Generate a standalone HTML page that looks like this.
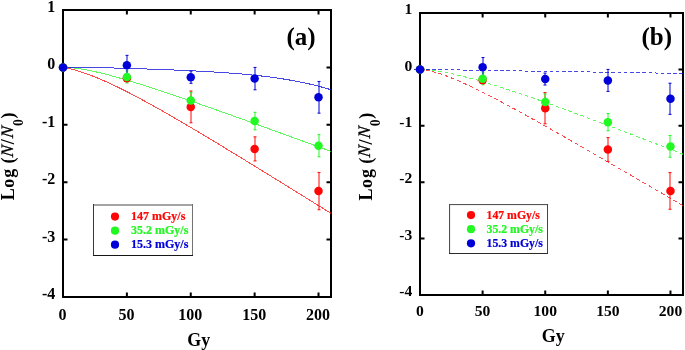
<!DOCTYPE html>
<html><head><meta charset="utf-8"><style>
html,body{margin:0;padding:0;background:#fff;}
svg{display:block;will-change:transform;}
.t{font-family:"Liberation Serif",serif;font-weight:bold;}
</style></head><body>
<svg width="685" height="350" viewBox="0 0 685 350">
<rect width="685" height="350" fill="#fff"/>
<rect x="63" y="10" width="268" height="287" fill="none" stroke="#000" stroke-width="2"/>
<path d="M126.88,297v-4.5M126.88,10v4.5" stroke="#000" stroke-width="2"/>
<path d="M190.76,297v-4.5M190.76,10v4.5" stroke="#000" stroke-width="2"/>
<path d="M254.64,297v-4.5M254.64,10v4.5" stroke="#000" stroke-width="2"/>
<path d="M318.52,297v-4.5M318.52,10v4.5" stroke="#000" stroke-width="2"/>
<path d="M63,67.40h4.5M331,67.40h-4.5" stroke="#000" stroke-width="2"/>
<path d="M63,124.80h4.5M331,124.80h-4.5" stroke="#000" stroke-width="2"/>
<path d="M63,182.20h4.5M331,182.20h-4.5" stroke="#000" stroke-width="2"/>
<path d="M63,239.60h4.5M331,239.60h-4.5" stroke="#000" stroke-width="2"/>
<polyline points="63.00,67.40 65.56,67.89 68.11,68.42 70.67,69.00 73.22,69.64 75.78,70.33 78.33,71.07 80.89,71.85 83.44,72.68 86.00,73.56 88.55,74.48 91.11,75.43 93.66,76.42 96.22,77.44 98.77,78.50 101.33,79.58 103.88,80.70 106.44,81.83 108.99,83.00 111.55,84.18 114.10,85.39 116.66,86.62 119.21,87.86 121.77,89.13 124.32,90.41 126.88,91.71 129.44,93.02 131.99,94.35 134.55,95.69 137.10,97.04 139.66,98.41 142.21,99.78 144.77,101.17 147.32,102.57 149.88,103.98 152.43,105.39 154.99,106.82 157.54,108.25 160.10,109.69 162.65,111.14 165.21,112.60 167.76,114.06 170.32,115.53 172.87,117.00 175.43,118.48 177.98,119.97 180.54,121.46 183.09,122.95 185.65,124.45 188.20,125.96 190.76,127.46 193.32,128.98 195.87,130.49 198.43,132.01 200.98,133.54 203.54,135.07 206.09,136.60 208.65,138.13 211.20,139.67 213.76,141.20 216.31,142.75 218.87,144.29 221.42,145.84 223.98,147.38 226.53,148.94 229.09,150.49 231.64,152.04 234.20,153.60 236.75,155.16 239.31,156.72 241.86,158.28 244.42,159.84 246.97,161.41 249.53,162.97 252.08,164.54 254.64,166.11 257.20,167.68 259.75,169.25 262.31,170.82 264.86,172.40 267.42,173.97 269.97,175.55 272.53,177.12 275.08,178.70 277.64,180.28 280.19,181.86 282.75,183.44 285.30,185.02 287.86,186.60 290.41,188.18 292.97,189.76 295.52,191.34 298.08,192.93 300.63,194.51 303.19,196.10 305.74,197.68 308.30,199.27 310.85,200.85 313.41,202.44 315.96,204.03 318.52,205.61 321.08,207.20 323.63,208.79 326.19,210.38 328.74,211.97 331.30,213.56" fill="none" stroke="#ff0505" stroke-width="1" stroke-opacity="0.72" shape-rendering="crispEdges"/>
<polyline points="63.00,67.40 65.56,67.39 68.11,67.48 70.67,67.65 73.22,67.89 75.78,68.18 78.33,68.53 80.89,68.92 83.44,69.34 86.00,69.81 88.55,70.30 91.11,70.82 93.66,71.37 96.22,71.94 98.77,72.54 101.33,73.15 103.88,73.78 106.44,74.43 108.99,75.10 111.55,75.78 114.10,76.48 116.66,77.18 119.21,77.90 121.77,78.64 124.32,79.38 126.88,80.13 129.44,80.89 131.99,81.66 134.55,82.44 137.10,83.23 139.66,84.02 142.21,84.82 144.77,85.63 147.32,86.44 149.88,87.26 152.43,88.09 154.99,88.92 157.54,89.76 160.10,90.60 162.65,91.44 165.21,92.29 167.76,93.15 170.32,94.00 172.87,94.86 175.43,95.73 177.98,96.60 180.54,97.47 183.09,98.34 185.65,99.22 188.20,100.10 190.76,100.98 193.32,101.87 195.87,102.75 198.43,103.64 200.98,104.54 203.54,105.43 206.09,106.33 208.65,107.22 211.20,108.12 213.76,109.02 216.31,109.93 218.87,110.83 221.42,111.74 223.98,112.65 226.53,113.56 229.09,114.47 231.64,115.38 234.20,116.29 236.75,117.20 239.31,118.12 241.86,119.03 244.42,119.95 246.97,120.87 249.53,121.79 252.08,122.71 254.64,123.63 257.20,124.55 259.75,125.47 262.31,126.40 264.86,127.32 267.42,128.25 269.97,129.17 272.53,130.10 275.08,131.02 277.64,131.95 280.19,132.88 282.75,133.81 285.30,134.73 287.86,135.66 290.41,136.59 292.97,137.52 295.52,138.45 298.08,139.38 300.63,140.32 303.19,141.25 305.74,142.18 308.30,143.11 310.85,144.04 313.41,144.98 315.96,145.91 318.52,146.84 321.08,147.78 323.63,148.71 326.19,149.65 328.74,150.58 331.30,151.52" fill="none" stroke="#22f822" stroke-width="1" stroke-opacity="0.72" shape-rendering="crispEdges"/>
<polyline points="63.00,67.40 65.56,67.39 68.11,67.38 70.67,67.37 73.22,67.38 75.78,67.39 78.33,67.40 80.89,67.42 83.44,67.44 86.00,67.47 88.55,67.50 91.11,67.54 93.66,67.58 96.22,67.63 98.77,67.67 101.33,67.72 103.88,67.78 106.44,67.83 108.99,67.89 111.55,67.95 114.10,68.02 116.66,68.08 119.21,68.15 121.77,68.22 124.32,68.30 126.88,68.37 129.44,68.45 131.99,68.52 134.55,68.60 137.10,68.69 139.66,68.77 142.21,68.85 144.77,68.94 147.32,69.03 149.88,69.11 152.43,69.20 154.99,69.30 157.54,69.39 160.10,69.48 162.65,69.58 165.21,69.68 167.76,69.78 170.32,69.88 172.87,69.98 175.43,70.09 177.98,70.20 180.54,70.31 183.09,70.42 185.65,70.53 188.20,70.65 190.76,70.77 193.32,70.89 195.87,71.02 198.43,71.14 200.98,71.28 203.54,71.41 206.09,71.55 208.65,71.69 211.20,71.84 213.76,71.99 216.31,72.15 218.87,72.31 221.42,72.48 223.98,72.65 226.53,72.83 229.09,73.01 231.64,73.20 234.20,73.40 236.75,73.60 239.31,73.82 241.86,74.03 244.42,74.26 246.97,74.50 249.53,74.74 252.08,74.99 254.64,75.26 257.20,75.53 259.75,75.81 262.31,76.10 264.86,76.41 267.42,76.73 269.97,77.05 272.53,77.39 275.08,77.75 277.64,78.11 280.19,78.49 282.75,78.89 285.30,79.30 287.86,79.72 290.41,80.16 292.97,80.62 295.52,81.10 298.08,81.59 300.63,82.10 303.19,82.63 305.74,83.17 308.30,83.74 310.85,84.33 313.41,84.94 315.96,85.57 318.52,86.22 321.08,86.89 323.63,87.59 326.19,88.32 328.74,89.06 331.30,89.84" fill="none" stroke="#0000d8" stroke-width="1" stroke-opacity="0.72" shape-rendering="crispEdges"/>
<path d="M127,75.44V81.18M125.5,75.44H128.5M125.5,81.18H128.5" stroke="#ff0505" stroke-width="1" fill="none"/>
<path d="M191,90.99V122.79M189.5,90.99H192.5M189.5,122.79H192.5" stroke="#ff0505" stroke-width="1" fill="none"/>
<path d="M255,136.85V160.96M253.5,136.85H256.5M253.5,160.96H256.5" stroke="#ff0505" stroke-width="1" fill="none"/>
<path d="M319,172.44V209.75M317.5,172.44H320.5M317.5,209.75H320.5" stroke="#ff0505" stroke-width="1" fill="none"/>
<path d="M127,70.90V82.96M125.5,70.90H128.5M125.5,82.96H128.5" stroke="#22f822" stroke-width="1" fill="none"/>
<path d="M191,92.43V108.50M189.5,92.43H192.5M189.5,108.50H192.5" stroke="#22f822" stroke-width="1" fill="none"/>
<path d="M255,112.29V129.85M253.5,112.29H256.5M253.5,129.85H256.5" stroke="#22f822" stroke-width="1" fill="none"/>
<path d="M319,134.67V156.83M317.5,134.67H320.5M317.5,156.83H320.5" stroke="#22f822" stroke-width="1" fill="none"/>
<path d="M127,55.35V75.09M125.5,55.35H128.5M125.5,75.09H128.5" stroke="#0000d8" stroke-width="1" fill="none"/>
<path d="M191,71.13V83.30M189.5,71.13H192.5M189.5,83.30H192.5" stroke="#0000d8" stroke-width="1" fill="none"/>
<path d="M255,67.40V89.79M253.5,67.40H256.5M253.5,89.79H256.5" stroke="#0000d8" stroke-width="1" fill="none"/>
<path d="M319,81.46V113.15M317.5,81.46H320.5M317.5,113.15H320.5" stroke="#0000d8" stroke-width="1" fill="none"/>
<circle cx="63.00" cy="67.40" r="4.25" fill="#ff0505"/>
<circle cx="126.88" cy="78.31" r="4.25" fill="#ff0505"/>
<circle cx="190.76" cy="106.89" r="4.25" fill="#ff0505"/>
<circle cx="254.64" cy="148.91" r="4.25" fill="#ff0505"/>
<circle cx="318.52" cy="191.10" r="4.25" fill="#ff0505"/>
<circle cx="63.00" cy="67.40" r="4.25" fill="#22f822"/>
<circle cx="126.88" cy="76.93" r="4.25" fill="#22f822"/>
<circle cx="190.76" cy="100.46" r="4.25" fill="#22f822"/>
<circle cx="254.64" cy="121.07" r="4.25" fill="#22f822"/>
<circle cx="318.52" cy="145.75" r="4.25" fill="#22f822"/>
<circle cx="63.00" cy="67.40" r="4.25" fill="#0000d8"/>
<circle cx="126.88" cy="65.22" r="4.25" fill="#0000d8"/>
<circle cx="190.76" cy="77.22" r="4.25" fill="#0000d8"/>
<circle cx="254.64" cy="78.59" r="4.25" fill="#0000d8"/>
<circle cx="318.52" cy="97.31" r="4.25" fill="#0000d8"/>
<text x="55.3" y="12.00" text-anchor="end" class="t" font-size="16">1</text>
<text x="55.3" y="69.40" text-anchor="end" class="t" font-size="16">0</text>
<text x="55.3" y="126.80" text-anchor="end" class="t" font-size="16">-1</text>
<text x="55.3" y="184.20" text-anchor="end" class="t" font-size="16">-2</text>
<text x="55.3" y="241.60" text-anchor="end" class="t" font-size="16">-3</text>
<text x="55.3" y="299.00" text-anchor="end" class="t" font-size="16">-4</text>
<text x="62.50" y="319.8" text-anchor="middle" class="t" font-size="16">0</text>
<text x="126.38" y="319.8" text-anchor="middle" class="t" font-size="16">50</text>
<text x="190.26" y="319.8" text-anchor="middle" class="t" font-size="16">100</text>
<text x="254.14" y="319.8" text-anchor="middle" class="t" font-size="16">150</text>
<text x="318.02" y="319.8" text-anchor="middle" class="t" font-size="16">200</text>
<text transform="translate(198.7,346.1) scale(0.965,1)" text-anchor="middle" class="t" font-size="18.6">Gy</text>
<text transform="translate(14.40,200.30) rotate(-90)" class="t" font-size="18">L</text>
<text transform="translate(14.40,187.70) rotate(-90)" class="t" font-size="18">o</text>
<text transform="translate(14.40,177.65) rotate(-90)" class="t" font-size="18">g</text>
<text transform="translate(14.40,163.45) rotate(-90)" class="t" font-size="18">(</text>
<text transform="translate(12.80,157.50) rotate(-90) skewX(-7)" class="t" font-size="17.5" style="font-weight:normal;font-style:italic" stroke="#000" stroke-width="0.3">N</text>
<text transform="translate(14.40,144.30) rotate(-90)" class="t" font-size="18">/</text>
<text transform="translate(12.80,138.40) rotate(-90) skewX(-7)" class="t" font-size="17.5" style="font-weight:normal;font-style:italic" stroke="#000" stroke-width="0.3">N</text>
<text transform="translate(14.40,118.45) rotate(-90)" class="t" font-size="18">)</text>
<text transform="translate(22.60,125.90) rotate(-90)" class="t" font-size="13.8">0</text>
<text x="286.5" y="45" class="t" font-size="25">(a)</text>
<rect x="93" y="204" width="100" height="2" fill="#a5a5a5"/>
<rect x="192" y="204" width="1" height="52" fill="#727272"/>
<rect x="93" y="204" width="1" height="52" fill="#383838"/>
<rect x="93" y="255" width="100" height="1" fill="#161616"/>
<circle cx="115" cy="216.60" r="4.1" fill="#ff0505"/>
<text transform="translate(131,220.10) scale(1,1.06)" class="t" font-size="12" fill="#ff0505" stroke="#ff0505" stroke-width="0.2">147 mGy/s</text>
<circle cx="115" cy="230.65" r="4.1" fill="#22f822"/>
<text transform="translate(131,234.15) scale(1,1.06)" class="t" font-size="12" fill="#22f822" stroke="#22f822" stroke-width="0.2">35.2 mGy/s</text>
<circle cx="115" cy="244.70" r="4.1" fill="#0000d8"/>
<text transform="translate(131,248.20) scale(1,1.06)" class="t" font-size="12" fill="#0000d8" stroke="#0000d8" stroke-width="0.2">15.3 mGy/s</text>
<rect x="420" y="13" width="263" height="282" fill="none" stroke="#000" stroke-width="2"/>
<path d="M482.62,295v-4.5M482.62,13v4.5" stroke="#000" stroke-width="2"/>
<path d="M545.24,295v-4.5M545.24,13v4.5" stroke="#000" stroke-width="2"/>
<path d="M607.86,295v-4.5M607.86,13v4.5" stroke="#000" stroke-width="2"/>
<path d="M670.48,295v-4.5M670.48,13v4.5" stroke="#000" stroke-width="2"/>
<path d="M420,69.40h4.5M683,69.40h-4.5" stroke="#000" stroke-width="2"/>
<path d="M420,125.80h4.5M683,125.80h-4.5" stroke="#000" stroke-width="2"/>
<path d="M420,182.20h4.5M683,182.20h-4.5" stroke="#000" stroke-width="2"/>
<path d="M420,238.60h4.5M683,238.60h-4.5" stroke="#000" stroke-width="2"/>
<path d="M413.74,69.40 L414.62,69.40 L415.49,69.40 L416.37,69.40 L417.24,69.40 M419.92,69.40 L420.80,69.46 L421.67,69.54 L422.55,69.63 L423.42,69.74 M426.10,70.15 L426.98,70.30 L427.85,70.47 L428.73,70.65 L429.60,70.84 M432.28,71.48 L433.16,71.71 L434.03,71.94 L434.91,72.19 L435.78,72.44 M438.46,73.25 L439.34,73.53 L440.21,73.81 L441.09,74.10 L441.96,74.40 M444.64,75.34 L445.51,75.66 L446.39,75.98 L447.26,76.31 L448.14,76.64 M450.82,77.69 L451.69,78.04 L452.57,78.39 L453.44,78.75 L454.32,79.11 M457.00,80.24 L457.88,80.61 L458.75,80.99 L459.62,81.37 L460.50,81.76 M463.18,82.95 L464.06,83.35 L464.93,83.75 L465.81,84.15 L466.68,84.55 M469.36,85.80 L470.24,86.21 L471.11,86.63 L471.99,87.04 L472.86,87.46 M475.54,88.76 L476.42,89.18 L477.29,89.61 L478.17,90.04 L479.04,90.47 M481.72,91.81 L482.60,92.25 L483.47,92.69 L484.35,93.13 L485.22,93.57 M487.90,94.93 L488.77,95.38 L489.65,95.83 L490.52,96.28 L491.40,96.74 M494.08,98.13 L494.96,98.58 L495.83,99.04 L496.71,99.50 L497.58,99.96 M500.26,101.38 L501.13,101.84 L502.01,102.31 L502.88,102.77 L503.76,103.24 M506.44,104.67 L507.31,105.14 L508.19,105.61 L509.06,106.09 L509.94,106.56 M512.62,108.01 L513.50,108.48 L514.37,108.96 L515.25,109.44 L516.12,109.91 M518.80,111.38 L519.67,111.86 L520.55,112.34 L521.42,112.82 L522.30,113.30 M524.98,114.78 L525.86,115.27 L526.73,115.75 L527.61,116.23 L528.48,116.72 M531.16,118.21 L532.03,118.70 L532.91,119.18 L533.78,119.67 L534.66,120.16 M537.34,121.66 L538.22,122.15 L539.09,122.64 L539.97,123.13 L540.84,123.62 M543.52,125.13 L544.39,125.62 L545.27,126.11 L546.14,126.61 L547.02,127.10 M549.70,128.61 L550.58,129.11 L551.45,129.60 L552.33,130.10 L553.20,130.60 M555.88,132.12 L556.75,132.61 L557.63,133.11 L558.50,133.61 L559.38,134.10 M562.06,135.63 L562.93,136.13 L563.81,136.63 L564.68,137.13 L565.56,137.62 M568.24,139.15 L569.12,139.65 L569.99,140.15 L570.87,140.65 L571.74,141.15 M574.42,142.69 L575.30,143.19 L576.17,143.69 L577.05,144.19 L577.92,144.69 M580.60,146.23 L581.48,146.73 L582.35,147.24 L583.23,147.74 L584.10,148.24 M586.78,149.78 L587.65,150.29 L588.53,150.79 L589.40,151.29 L590.28,151.80 M592.96,153.34 L593.84,153.84 L594.71,154.35 L595.59,154.85 L596.46,155.36 M599.14,156.90 L600.01,157.41 L600.89,157.91 L601.76,158.42 L602.64,158.92 M605.32,160.47 L606.19,160.98 L607.07,161.48 L607.94,161.99 L608.82,162.49 M611.50,164.04 L612.38,164.55 L613.25,165.05 L614.12,165.56 L615.00,166.07 M617.68,167.62 L618.56,168.12 L619.43,168.63 L620.31,169.14 L621.18,169.64 M623.86,171.20 L624.74,171.70 L625.61,172.21 L626.49,172.72 L627.36,173.22 M630.04,174.78 L630.91,175.29 L631.79,175.79 L632.66,176.30 L633.54,176.81 M636.22,178.36 L637.10,178.87 L637.97,179.38 L638.85,179.89 L639.72,180.39 M642.40,181.95 L643.27,182.46 L644.15,182.97 L645.02,183.47 L645.90,183.98 M648.58,185.54 L649.45,186.05 L650.33,186.56 L651.20,187.06 L652.08,187.57 M654.76,189.13 L655.63,189.64 L656.51,190.15 L657.38,190.65 L658.26,191.16 M660.94,192.72 L661.82,193.23 L662.69,193.74 L663.57,194.25 L664.44,194.76 M667.12,196.31 L668.00,196.82 L668.87,197.33 L669.75,197.84 L670.62,198.35 M673.30,199.91 L674.17,200.42 L675.05,200.93 L675.92,201.44 L676.80,201.95 M679.48,203.50 L680.36,204.01 L681.23,204.52 L682.11,205.03 L682.98,205.54" fill="none" stroke="#ff0505" stroke-width="1" stroke-opacity="0.72" shape-rendering="crispEdges"/>
<path d="M413.74,69.40 L414.62,69.40 L415.49,69.40 L416.37,69.40 L417.24,69.40 M419.92,69.40 L420.80,69.43 L421.67,69.48 L422.55,69.52 L423.42,69.58 M426.10,69.77 L426.98,69.85 L427.85,69.93 L428.73,70.01 L429.60,70.10 M432.28,70.41 L433.16,70.52 L434.03,70.63 L434.91,70.75 L435.78,70.88 M438.46,71.28 L439.34,71.42 L440.21,71.56 L441.09,71.71 L441.96,71.86 M444.64,72.34 L445.51,72.50 L446.39,72.67 L447.26,72.84 L448.14,73.02 M450.82,73.57 L451.69,73.75 L452.57,73.94 L453.44,74.13 L454.32,74.32 M457.00,74.93 L457.88,75.14 L458.75,75.34 L459.62,75.55 L460.50,75.76 M463.18,76.42 L464.06,76.64 L464.93,76.86 L465.81,77.08 L466.68,77.31 M469.36,78.01 L470.24,78.24 L471.11,78.48 L471.99,78.71 L472.86,78.95 M475.54,79.69 L476.42,79.94 L477.29,80.18 L478.17,80.43 L479.04,80.68 M481.72,81.45 L482.60,81.70 L483.47,81.96 L484.35,82.22 L485.22,82.48 M487.90,83.28 L488.77,83.54 L489.65,83.81 L490.52,84.07 L491.40,84.34 M494.08,85.16 L494.96,85.44 L495.83,85.71 L496.71,85.98 L497.58,86.26 M500.26,87.10 L501.13,87.38 L502.01,87.66 L502.88,87.94 L503.76,88.22 M506.44,89.09 L507.31,89.38 L508.19,89.66 L509.06,89.95 L509.94,90.24 M512.62,91.12 L513.50,91.41 L514.37,91.70 L515.25,92.00 L516.12,92.29 M518.80,93.19 L519.67,93.48 L520.55,93.78 L521.42,94.08 L522.30,94.37 M524.98,95.29 L525.86,95.59 L526.73,95.89 L527.61,96.19 L528.48,96.49 M531.16,97.42 L532.03,97.72 L532.91,98.03 L533.78,98.33 L534.66,98.64 M537.34,99.58 L538.22,99.88 L539.09,100.19 L539.97,100.50 L540.84,100.81 M543.52,101.76 L544.39,102.07 L545.27,102.38 L546.14,102.69 L547.02,103.00 M549.70,103.96 L550.58,104.28 L551.45,104.59 L552.33,104.90 L553.20,105.22 M555.88,106.18 L556.75,106.50 L557.63,106.82 L558.50,107.13 L559.38,107.45 M562.06,108.42 L562.93,108.74 L563.81,109.06 L564.68,109.38 L565.56,109.70 M568.24,110.68 L569.12,111.00 L569.99,111.32 L570.87,111.64 L571.74,111.97 M574.42,112.95 L575.30,113.27 L576.17,113.60 L577.05,113.92 L577.92,114.24 M580.60,115.24 L581.48,115.56 L582.35,115.88 L583.23,116.21 L584.10,116.53 M586.78,117.53 L587.65,117.86 L588.53,118.18 L589.40,118.51 L590.28,118.84 M592.96,119.84 L593.84,120.17 L594.71,120.49 L595.59,120.82 L596.46,121.15 M599.14,122.15 L600.01,122.48 L600.89,122.81 L601.76,123.14 L602.64,123.47 M605.32,124.48 L606.19,124.81 L607.07,125.14 L607.94,125.47 L608.82,125.80 M611.50,126.81 L612.38,127.14 L613.25,127.47 L614.12,127.81 L615.00,128.14 M617.68,129.15 L618.56,129.49 L619.43,129.82 L620.31,130.15 L621.18,130.48 M623.86,131.50 L624.74,131.83 L625.61,132.17 L626.49,132.50 L627.36,132.83 M630.04,133.85 L630.91,134.19 L631.79,134.52 L632.66,134.86 L633.54,135.19 M636.22,136.21 L637.10,136.55 L637.97,136.88 L638.85,137.22 L639.72,137.55 M642.40,138.58 L643.27,138.91 L644.15,139.25 L645.02,139.58 L645.90,139.92 M648.58,140.95 L649.45,141.28 L650.33,141.62 L651.20,141.95 L652.08,142.29 M654.76,143.32 L655.63,143.65 L656.51,143.99 L657.38,144.33 L658.26,144.66 M660.94,145.70 L661.82,146.03 L662.69,146.37 L663.57,146.71 L664.44,147.04 M667.12,148.08 L668.00,148.41 L668.87,148.75 L669.75,149.09 L670.62,149.43 M673.30,150.46 L674.17,150.80 L675.05,151.13 L675.92,151.47 L676.80,151.81 M679.48,152.85 L680.36,153.18 L681.23,153.52 L682.11,153.86 L682.98,154.20" fill="none" stroke="#22f822" stroke-width="1" stroke-opacity="0.72" shape-rendering="crispEdges"/>
<path d="M413.74,69.40 L414.62,69.40 L415.49,69.40 L416.37,69.40 L417.24,69.40 M419.92,69.40 L420.80,69.41 L421.67,69.43 L422.55,69.44 L423.42,69.45 M426.10,69.49 L426.98,69.51 L427.85,69.52 L428.73,69.53 L429.60,69.55 M432.28,69.59 L433.16,69.60 L434.03,69.61 L434.91,69.63 L435.78,69.64 M438.46,69.68 L439.34,69.70 L440.21,69.71 L441.09,69.72 L441.96,69.74 M444.64,69.78 L445.51,69.79 L446.39,69.80 L447.26,69.82 L448.14,69.83 M450.82,69.87 L451.69,69.89 L452.57,69.90 L453.44,69.91 L454.32,69.93 M457.00,69.97 L457.88,69.98 L458.75,69.99 L459.62,70.01 L460.50,70.02 M463.18,70.06 L464.06,70.07 L464.93,70.09 L465.81,70.10 L466.68,70.11 M469.36,70.16 L470.24,70.17 L471.11,70.18 L471.99,70.20 L472.86,70.21 M475.54,70.25 L476.42,70.26 L477.29,70.28 L478.17,70.29 L479.04,70.30 M481.72,70.35 L482.60,70.36 L483.47,70.37 L484.35,70.39 L485.22,70.40 M487.90,70.44 L488.77,70.45 L489.65,70.47 L490.52,70.48 L491.40,70.49 M494.08,70.53 L494.96,70.55 L495.83,70.56 L496.71,70.57 L497.58,70.59 M500.26,70.63 L501.13,70.64 L502.01,70.66 L502.88,70.67 L503.76,70.68 M506.44,70.72 L507.31,70.74 L508.19,70.75 L509.06,70.76 L509.94,70.78 M512.62,70.82 L513.50,70.83 L514.37,70.84 L515.25,70.86 L516.12,70.87 M518.80,70.91 L519.67,70.93 L520.55,70.94 L521.42,70.95 L522.30,70.97 M524.98,71.01 L525.86,71.02 L526.73,71.03 L527.61,71.05 L528.48,71.06 M531.16,71.10 L532.03,71.12 L532.91,71.13 L533.78,71.14 L534.66,71.16 M537.34,71.20 L538.22,71.21 L539.09,71.22 L539.97,71.24 L540.84,71.25 M543.52,71.29 L544.39,71.30 L545.27,71.32 L546.14,71.33 L547.02,71.34 M549.70,71.39 L550.58,71.40 L551.45,71.41 L552.33,71.43 L553.20,71.44 M555.88,71.48 L556.75,71.49 L557.63,71.51 L558.50,71.52 L559.38,71.53 M562.06,71.58 L562.93,71.59 L563.81,71.60 L564.68,71.62 L565.56,71.63 M568.24,71.67 L569.12,71.68 L569.99,71.70 L570.87,71.71 L571.74,71.72 M574.42,71.76 L575.30,71.78 L576.17,71.79 L577.05,71.80 L577.92,71.82 M580.60,71.86 L581.48,71.87 L582.35,71.89 L583.23,71.90 L584.10,71.91 M586.78,71.95 L587.65,71.97 L588.53,71.98 L589.40,71.99 L590.28,72.01 M592.96,72.05 L593.84,72.06 L594.71,72.08 L595.59,72.09 L596.46,72.10 M599.14,72.14 L600.01,72.16 L600.89,72.17 L601.76,72.18 L602.64,72.20 M605.32,72.24 L606.19,72.25 L607.07,72.26 L607.94,72.28 L608.82,72.29 M611.50,72.33 L612.38,72.35 L613.25,72.36 L614.12,72.37 L615.00,72.39 M617.68,72.43 L618.56,72.44 L619.43,72.45 L620.31,72.47 L621.18,72.48 M623.86,72.52 L624.74,72.53 L625.61,72.55 L626.49,72.56 L627.36,72.58 M630.04,72.62 L630.91,72.63 L631.79,72.64 L632.66,72.66 L633.54,72.67 M636.22,72.71 L637.10,72.72 L637.97,72.74 L638.85,72.75 L639.72,72.76 M642.40,72.81 L643.27,72.82 L644.15,72.83 L645.02,72.85 L645.90,72.86 M648.58,72.90 L649.45,72.91 L650.33,72.93 L651.20,72.94 L652.08,72.95 M654.76,72.99 L655.63,73.01 L656.51,73.02 L657.38,73.03 L658.26,73.05 M660.94,73.09 L661.82,73.10 L662.69,73.12 L663.57,73.13 L664.44,73.14 M667.12,73.18 L668.00,73.20 L668.87,73.21 L669.75,73.22 L670.62,73.24 M673.30,73.28 L674.17,73.29 L675.05,73.31 L675.92,73.32 L676.80,73.33 M679.48,73.37 L680.36,73.39 L681.23,73.40 L682.11,73.41 L682.98,73.43" fill="none" stroke="#0000d8" stroke-width="1" stroke-opacity="0.72" shape-rendering="crispEdges"/>
<path d="M483,77.30V82.94M481.5,77.30H484.5M481.5,82.94H484.5" stroke="#ff0505" stroke-width="1" fill="none"/>
<path d="M545,92.58V123.83M543.5,92.58H546.5M543.5,123.83H546.5" stroke="#ff0505" stroke-width="1" fill="none"/>
<path d="M608,137.64V161.33M606.5,137.64H609.5M606.5,161.33H609.5" stroke="#ff0505" stroke-width="1" fill="none"/>
<path d="M670,172.61V209.27M668.5,172.61H671.5M668.5,209.27H671.5" stroke="#ff0505" stroke-width="1" fill="none"/>
<path d="M483,72.84V84.68M481.5,72.84H484.5M481.5,84.68H484.5" stroke="#22f822" stroke-width="1" fill="none"/>
<path d="M545,93.99V109.78M543.5,93.99H546.5M543.5,109.78H546.5" stroke="#22f822" stroke-width="1" fill="none"/>
<path d="M608,113.50V130.76M606.5,113.50H609.5M606.5,130.76H609.5" stroke="#22f822" stroke-width="1" fill="none"/>
<path d="M670,135.50V157.27M668.5,135.50H671.5M668.5,157.27H671.5" stroke="#22f822" stroke-width="1" fill="none"/>
<path d="M483,57.56V76.96M481.5,57.56H484.5M481.5,76.96H484.5" stroke="#0000d8" stroke-width="1" fill="none"/>
<path d="M545,73.07V85.02M543.5,73.07H546.5M543.5,85.02H546.5" stroke="#0000d8" stroke-width="1" fill="none"/>
<path d="M608,69.40V91.40M606.5,69.40H609.5M606.5,91.40H609.5" stroke="#0000d8" stroke-width="1" fill="none"/>
<path d="M670,83.22V114.35M668.5,83.22H671.5M668.5,114.35H671.5" stroke="#0000d8" stroke-width="1" fill="none"/>
<circle cx="420.00" cy="69.40" r="4.25" fill="#ff0505"/>
<circle cx="482.62" cy="80.12" r="4.25" fill="#ff0505"/>
<circle cx="545.24" cy="108.20" r="4.25" fill="#ff0505"/>
<circle cx="607.86" cy="149.49" r="4.25" fill="#ff0505"/>
<circle cx="670.48" cy="190.94" r="4.25" fill="#ff0505"/>
<circle cx="420.00" cy="69.40" r="4.25" fill="#22f822"/>
<circle cx="482.62" cy="78.76" r="4.25" fill="#22f822"/>
<circle cx="545.24" cy="101.89" r="4.25" fill="#22f822"/>
<circle cx="607.86" cy="122.13" r="4.25" fill="#22f822"/>
<circle cx="670.48" cy="146.39" r="4.25" fill="#22f822"/>
<circle cx="420.00" cy="69.40" r="4.25" fill="#0000d8"/>
<circle cx="482.62" cy="67.26" r="4.25" fill="#0000d8"/>
<circle cx="545.24" cy="79.04" r="4.25" fill="#0000d8"/>
<circle cx="607.86" cy="80.40" r="4.25" fill="#0000d8"/>
<circle cx="670.48" cy="98.78" r="4.25" fill="#0000d8"/>
<text x="412.3" y="14.20" text-anchor="end" class="t" font-size="15.6">1</text>
<text x="412.3" y="70.60" text-anchor="end" class="t" font-size="15.6">0</text>
<text x="412.3" y="127.00" text-anchor="end" class="t" font-size="15.6">-1</text>
<text x="412.3" y="183.40" text-anchor="end" class="t" font-size="15.6">-2</text>
<text x="412.3" y="239.80" text-anchor="end" class="t" font-size="15.6">-3</text>
<text x="412.3" y="296.20" text-anchor="end" class="t" font-size="15.6">-4</text>
<text x="420.00" y="316.0" text-anchor="middle" class="t" font-size="15.6">0</text>
<text x="482.62" y="316.0" text-anchor="middle" class="t" font-size="15.6">50</text>
<text x="545.24" y="316.0" text-anchor="middle" class="t" font-size="15.6">100</text>
<text x="607.86" y="316.0" text-anchor="middle" class="t" font-size="15.6">150</text>
<text x="670.48" y="316.0" text-anchor="middle" class="t" font-size="15.6">200</text>
<text transform="translate(553.2,342.2) scale(0.965,1)" text-anchor="middle" class="t" font-size="18.6">Gy</text>
<text transform="translate(371.80,200.60) rotate(-90)" class="t" font-size="18">L</text>
<text transform="translate(371.80,188.00) rotate(-90)" class="t" font-size="18">o</text>
<text transform="translate(371.80,177.95) rotate(-90)" class="t" font-size="18">g</text>
<text transform="translate(371.80,163.75) rotate(-90)" class="t" font-size="18">(</text>
<text transform="translate(370.20,157.80) rotate(-90) skewX(-7)" class="t" font-size="17.5" style="font-weight:normal;font-style:italic" stroke="#000" stroke-width="0.3">N</text>
<text transform="translate(371.80,144.60) rotate(-90)" class="t" font-size="18">/</text>
<text transform="translate(370.20,138.70) rotate(-90) skewX(-7)" class="t" font-size="17.5" style="font-weight:normal;font-style:italic" stroke="#000" stroke-width="0.3">N</text>
<text transform="translate(371.80,118.75) rotate(-90)" class="t" font-size="18">)</text>
<text transform="translate(380.00,126.20) rotate(-90)" class="t" font-size="13.8">0</text>
<text x="641.5" y="45" class="t" font-size="25">(b)</text>
<rect x="449" y="204" width="99" height="1" fill="#555555"/>
<rect x="449" y="205" width="99" height="0.3" fill="#cccccc"/>
<rect x="547" y="204" width="1" height="50" fill="#444444"/>
<rect x="449" y="204" width="1" height="50" fill="#505050"/>
<rect x="450" y="205" width="0.3" height="48" fill="#cccccc"/>
<rect x="449" y="253" width="99" height="1" fill="#2a2a2a"/>
<circle cx="471" cy="215.10" r="4.1" fill="#ff0505"/>
<text transform="translate(486.5,218.60) scale(1,1.06)" class="t" font-size="11.8" fill="#ff0505" stroke="#ff0505" stroke-width="0.2">147 mGy/s</text>
<circle cx="471" cy="229.20" r="4.1" fill="#22f822"/>
<text transform="translate(486.5,232.70) scale(1,1.06)" class="t" font-size="11.8" fill="#22f822" stroke="#22f822" stroke-width="0.2">35.2 mGy/s</text>
<circle cx="471" cy="243.30" r="4.1" fill="#0000d8"/>
<text transform="translate(486.5,246.80) scale(1,1.06)" class="t" font-size="11.8" fill="#0000d8" stroke="#0000d8" stroke-width="0.2">15.3 mGy/s</text>
</svg>
</body></html>
